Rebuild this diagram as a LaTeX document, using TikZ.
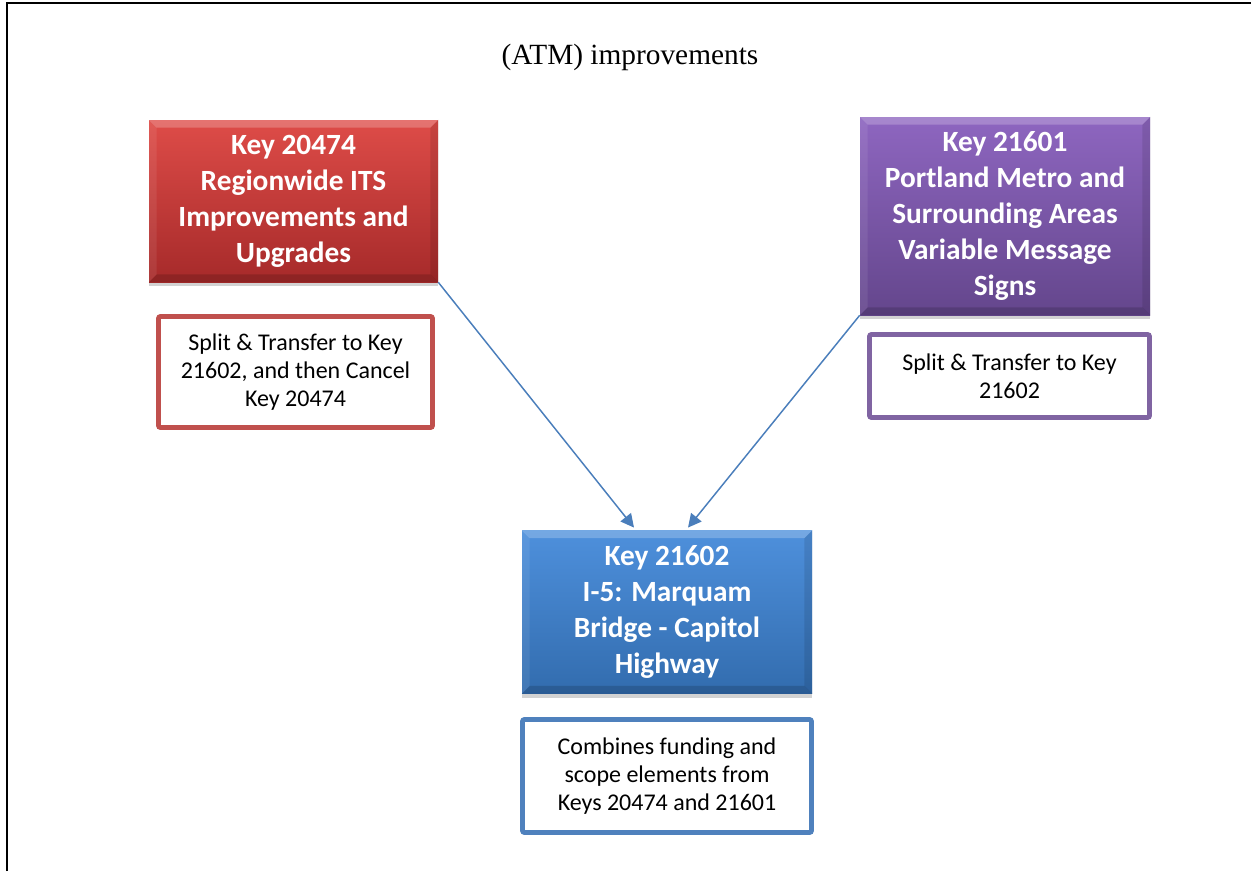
\documentclass[tikz,border=0pt]{standalone}
\usepackage{fontspec}
\setmainfont{Liberation Serif}
\newfontfamily\calfont{Carlito}
\usetikzlibrary{shadows,arrows.meta}
\definecolor{redtop}{RGB}{222,76,72}
\definecolor{redbot}{RGB}{166,42,42}
\definecolor{purtop}{RGB}{142,102,192}
\definecolor{purbot}{RGB}{100,70,140}
\definecolor{blutop}{RGB}{78,144,220}
\definecolor{blubot}{RGB}{50,108,174}
\definecolor{rednote}{RGB}{192,80,77}
\definecolor{purnote}{RGB}{128,100,162}
\definecolor{blunote}{RGB}{79,129,189}
\definecolor{arrowblue}{RGB}{74,126,187}
\newcommand\kbevel[1]{%
  \fill[white,opacity=0.22] (#1.north west) -- (#1.north east) -- ([xshift=-6pt,yshift=-6pt]#1.north east) -- ([xshift=6pt,yshift=-6pt]#1.north west) -- cycle;
  \fill[white,opacity=0.08] (#1.north west) -- ([xshift=6pt,yshift=-6pt]#1.north west) -- ([xshift=6pt,yshift=6pt]#1.south west) -- (#1.south west) -- cycle;
  \fill[black,opacity=0.10] (#1.north east) -- ([xshift=-6pt,yshift=-6pt]#1.north east) -- ([xshift=-6pt,yshift=6pt]#1.south east) -- (#1.south east) -- cycle;
  \fill[black,opacity=0.15] (#1.south west) -- ([xshift=6pt,yshift=6pt]#1.south west) -- ([xshift=-6pt,yshift=6pt]#1.south east) -- (#1.south east) -- cycle;
}
\tikzset{
  keybox/.style={rectangle, align=center, text=white,
    font=\calfont\bfseries\fontsize{22}{27}\selectfont,
    drop shadow={shadow xshift=0pt, shadow yshift=-3pt, opacity=0.25, fill=black!70},
    inner sep=0pt},
  notebox/.style={rectangle, rounded corners=1.5pt, fill=white, line width=3.6pt,
    align=center, text=black, font=\calfont\fontsize{18}{21}\selectfont, inner sep=0pt},
  conn/.style={draw=arrowblue, line width=1.1pt, -{Triangle[length=10pt,width=10pt]}},
}
\begin{document}
\begin{tikzpicture}[x=0.75pt,y=-0.75pt]
\useasboundingbox (0,0) rectangle (1251,871);
\fill[white] (0,0) rectangle (1251,871);
\draw[line width=1.5pt] (7,871) -- (7,3) -- (1251,3);

\node[font=\fontsize{22}{26}\selectfont] (title) at (630,57) {(ATM) improvements};

\node[keybox, top color=redtop, bottom color=redbot, minimum width=216.75pt, minimum height=121.5pt] (red) at (293.5,201)
  {Key 20474\\Regionwide ITS\\Improvements and\\Upgrades};
\kbevel{red}
\node[keybox, top color=purtop, bottom color=purbot, minimum width=217.5pt, minimum height=148.5pt] (pur) at (1005,216)
  {Key 21601\\Portland Metro and\\Surrounding Areas\\Variable Message\\Signs};
\kbevel{pur}
\node[keybox, top color=blutop, bottom color=blubot, minimum width=217.5pt, minimum height=122.25pt] (blu) at (667,612)
  {Key 21602\\I-5: Marquam\\Bridge - Capitol\\Highway};
\kbevel{blu}

\node[notebox, draw=rednote, minimum width=205.5pt, minimum height=83.25pt] (rnote) at (295.5,372)
  {Split \& Transfer to Key\\21602, and then Cancel\\Key 20474};
\node[notebox, draw=purnote, minimum width=210pt, minimum height=62.25pt] (pnote) at (1009.5,376)
  {Split \& Transfer to Key\\21602};
\node[notebox, draw=blunote, minimum width=216.75pt, minimum height=84.75pt] (bnote) at (667,776)
  {Combines funding and\\scope elements from\\Keys 20474 and 21601};

\draw[conn] (red.south east) -- ([xshift=-24.75pt,yshift=2pt]blu.north);
\draw[conn] (pur.south west) -- ([xshift=15.75pt,yshift=2pt]blu.north);
\end{tikzpicture}
\end{document}
